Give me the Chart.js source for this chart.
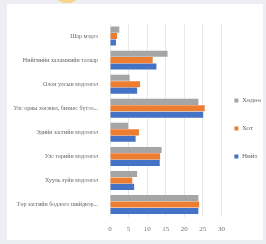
<!DOCTYPE html>
<html>
<head>
<meta charset="utf-8">
<script src="https://cdn.jsdelivr.net/npm/chart.js@4/dist/chart.umd.min.js"></script>
<style>
  html, body { margin: 0; padding: 0; background: #eceef1; overflow: hidden; }
  #wrap { position: relative; width: 266px; height: 244px; overflow: hidden; }
  #card { position: absolute; left: 7px; top: 4px; width: 256px; height: 236px; background: #fff; }
  #blob { position: absolute; left: 57px; top: -8px; width: 20px; height: 11px; border-radius: 50%; background: #f6d58a; }
  #c { position: absolute; left: 0; top: 0; }
</style>
</head>
<body>
<div id="wrap">
  <div id="card"></div>
  <div id="blob"></div>
  <canvas id="c" width="281" height="244"></canvas>
</div>
<script>
// categories, top to bottom as they appear
const categories = [
  'Шар мэдээ',
  'Нийгмийн халамжийн талаар',
  'Олон улсын мэдээлэл',
  'Улс орны хөгжил, бизнес бүтээ...',
  'Эдийн засгийн мэдээлэл',
  'Улс төрийн мэдээлэл',
  'Хууль зүйн мэдээлэл',
  'Төр засгийн бодлого шийдвэр...',
];

const seriesNames = ['Хөдөө', 'Хот', 'Нийт'];

// values
const rural = [2.5, 15.5, 5.3, 23.8, 4.9, 13.9, 7.3, 23.8];
const city = [1.9, 11.5, 8.1, 25.5, 7.8, 13.5, 6.0, 24.0];
const total = [1.6, 12.5, 7.3, 25.1, 6.9, 13.4, 6.5, 23.8];

const xTicks = [0, 5, 10, 15, 20, 25, 30];

const colors = ['#a5a5a5', '#ed7d31', '#4472c4'];

const labelFont = { family: 'Liberation Serif', size: 6 };

// nudge the legend a bit left/up after layout, like the original
const legendNudge = {
  id: 'legendNudge',
  afterLayout: function (chart) {
    const lg = chart.legend;
    if (!lg) return;
    lg.left -= 8;
    lg.right -= 8;
    lg.top -= 4;
    lg.bottom -= 4;
  },
};

new Chart(document.getElementById('c'), {
  type: 'bar',
  data: {
    labels: categories,
    datasets: [rural, city, total].map(function (d, i) {
      return {
        label: seriesNames[i],
        data: d,
        backgroundColor: colors[i],
        categoryPercentage: 0.8,
        barPercentage: 0.95,
      };
    }),
  },
  options: {
    indexAxis: 'y',
    responsive: false,
    animation: false,
    layout: { padding: { top: 24, bottom: 3, left: 0, right: 2 } },
    plugins: {
      legend: {
        position: 'right',
        labels: {
          font: { family: 'Liberation Serif', size: 7 },
          color: '#666',
          boxWidth: 4,
          boxHeight: 4,
          padding: 21,
        },
      },
      tooltip: { enabled: false },
    },
    scales: {
      x: {
        min: 0,
        max: 30,
        afterBuildTicks: function (scale) {
          scale.ticks = xTicks.map(function (v) { return { value: v }; });
        },
        grid: { color: '#e8e8e8', drawTicks: false },
        border: { display: false },
        ticks: { font: { family: 'Liberation Serif', size: 7 }, color: '#777', padding: 8 },
      },
      y: {
        grid: { display: false },
        border: { display: false },
        afterFit: function (scale) { scale.width = 110; },
        ticks: { font: labelFont, color: '#666', padding: 4, autoSkip: false },
      },
    },
  },
  plugins: [legendNudge],
});
</script>
</body>
</html>
